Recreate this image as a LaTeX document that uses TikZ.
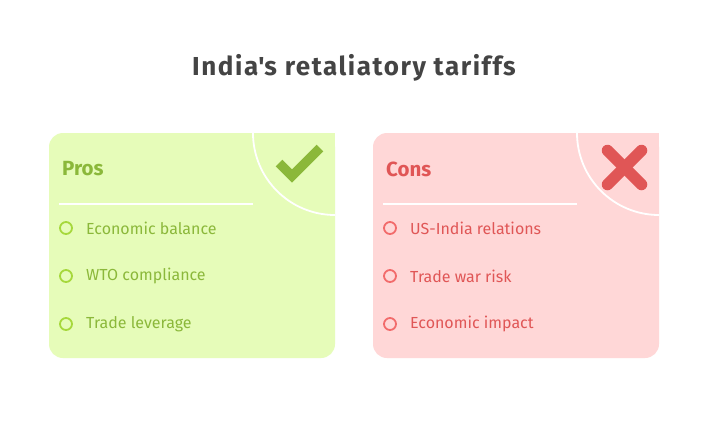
\documentclass[tikz,border=0pt]{standalone}
\usepackage{fontspec}
\setmainfont{Fira Sans}
\definecolor{prosbg}{HTML}{E6FCB9}
\definecolor{prostx}{HTML}{8BB83A}
\definecolor{prosdot}{HTML}{A6D83C}
\definecolor{consbg}{HTML}{FFD7D7}
\definecolor{constx}{HTML}{E05656}
\definecolor{consdot}{HTML}{F26B6B}
\definecolor{titlec}{HTML}{444444}
\begin{document}
\begin{tikzpicture}[x=1pt,y=-1pt,
  titlestyle/.style={font=\fontsize{26}{30}\selectfont\bfseries\addfontfeature{LetterSpace=6}, text=titlec, inner sep=0pt},
  headstyle/.style={font=\fontsize{20.5}{24}\selectfont\bfseries, anchor=west, inner sep=0pt},
  itemstyle/.style={font=\fontsize{16}{19}\selectfont, anchor=west, inner sep=0pt},
  dotstyle/.style={circle, draw, line width=1.8pt, minimum size=12pt, inner sep=0pt},
  divider/.style={white, line width=2pt},
  arcline/.style={white, line width=1.8pt}]
\useasboundingbox (0,0) rectangle (708,432);
\fill[white] (0,0) rectangle (708,432);

\node[titlestyle] (title) at (354,68) {India\textquotesingle s retaliatory tariffs};

% Pros panel
\begin{scope}
\fill[prosbg, rounded corners=14pt] (49,133) rectangle (335,358);
\fill[prosbg] (315,133) rectangle (335,153);
\clip (49,133) rectangle (335,358);
\draw[arcline] (335,133) circle[radius=82];
\end{scope}
\draw[prostx, line width=9.5pt, line cap=butt, line join=miter] (279,163) coordinate (ck1) -- (292,176) coordinate (ck2) -- (320,148) coordinate (ck3);
\node[headstyle, text=prostx] (pros) at (62,169) {Pros};
\coordinate (pl1) at (59,204);
\coordinate (pl2) at (253,204);
\draw[divider] (pl1) -- (pl2);
\node[dotstyle, draw=prosdot] (pd1) at (66,228) {};
\node[dotstyle, draw=prosdot] (pd2) at (66,276) {};
\node[dotstyle, draw=prosdot] (pd3) at (66,324) {};
\node[itemstyle, text=prostx] (pi1) at (86,228) {Economic balance};
\node[itemstyle, text=prostx] (pi2) at (86,276) {WTO compliance};
\node[itemstyle, text=prostx] (pi3) at (86,324) {Trade leverage};

% Cons panel
\begin{scope}
\fill[consbg, rounded corners=14pt] (373,133) rectangle (659,358);
\fill[consbg] (639,133) rectangle (659,153);
\clip (373,133) rectangle (659,358);
\draw[arcline] (659,133) circle[radius=82];
\end{scope}
\draw[constx, line width=11.5pt, line cap=round] (607.5,150.5) coordinate (cx1) -- (641.5,184.5) coordinate (cx2);
\draw[constx, line width=11.5pt, line cap=round] (641.5,150.5) coordinate (cx3) -- (607.5,184.5) coordinate (cx4);
\node[headstyle, text=constx] (cons) at (386,169) {Cons};
\coordinate (cl1) at (383,204);
\coordinate (cl2) at (577,204);
\draw[divider] (cl1) -- (cl2);
\node[dotstyle, draw=consdot] (cd1) at (390,228) {};
\node[dotstyle, draw=consdot] (cd2) at (390,276) {};
\node[dotstyle, draw=consdot] (cd3) at (390,324) {};
\node[itemstyle, text=constx] (ci1) at (410,228) {US-India relations};
\node[itemstyle, text=constx] (ci2) at (410,276) {Trade war risk};
\node[itemstyle, text=constx] (ci3) at (410,324) {Economic impact};
\end{tikzpicture}
\end{document}
